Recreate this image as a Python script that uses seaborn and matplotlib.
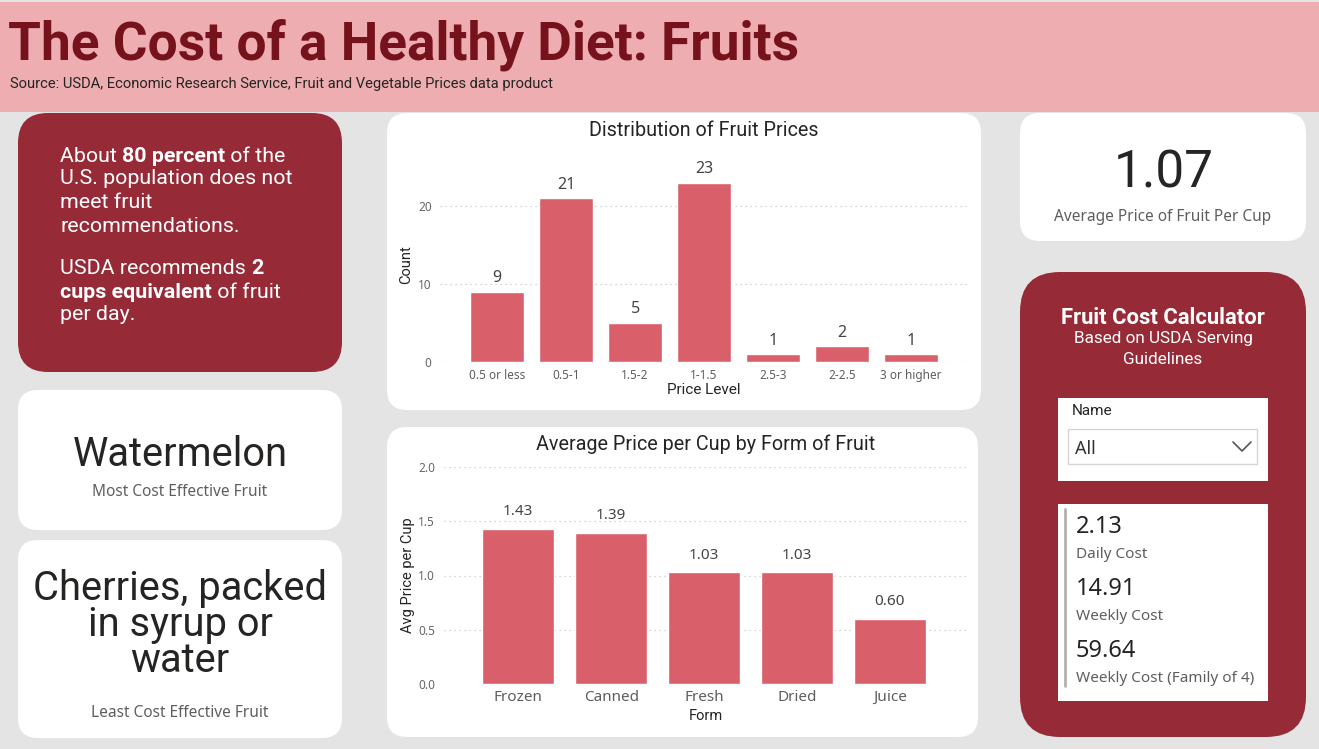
import pandas as pd
import seaborn as sns
import matplotlib.pyplot as plt
from matplotlib.patches import FancyBboxPatch, Rectangle
from matplotlib import font_manager

# chart data
price_levels = ["0.5 or less", "0.5-1", "1.5-2", "1-1.5", "2.5-3", "2-2.5", "3 or higher"]
price_counts = [9, 21, 5, 23, 1, 2, 1]
forms = ["Frozen", "Canned", "Fresh", "Dried", "Juice"]
form_prices = [1.43, 1.39, 1.03, 1.03, 0.60]
avg_price = "1.07"
most_effective = "Watermelon"
least_effective = ["Cherries, packed", "in syrup or", "water"]
calc_values = ["2.13", "14.91", "59.64"]
calc_labels = ["Daily Cost", "Weekly Cost", "Weekly Cost (Family of 4)"]

W, H = 1319, 749
BAR = "#d9606a"
DARK_RED = "#962b37"
TEXT = "#252423"
GREY = "#605e5c"

sns.set_theme(style="white")


def has_font(name):
    try:
        font_manager.findfont(font_manager.FontProperties(family=name), fallback_to_default=False)
        return True
    except ValueError:
        return False


NARROW = "Liberation Sans Narrow" if has_font("Liberation Sans Narrow") else "Roboto"
DIN = "Roboto"
SEGOE = "Noto Sans"
plt.rcParams['font.family'] = [SEGOE, 'DejaVu Sans']

fig = plt.figure(figsize=(W / 100, H / 100), dpi=100)
fig.patch.set_facecolor("#e4e4e4")

# background axes in pixel coordinates
bg = fig.add_axes([0, 0, 1, 1])
bg.set_xlim(0, W)
bg.set_ylim(H, 0)
bg.axis("off")
renderer = fig.canvas.get_renderer()


def card(x0, y0, x1, y1, color, r):
    bg.add_patch(FancyBboxPatch((x0, y0), x1 - x0, y1 - y0,
                                boxstyle=f"round,pad=0,rounding_size={r}",
                                fc=color, ec="none", zorder=1))


# header
bg.add_patch(Rectangle((0, 2), W, 110, fc="#edadb1", ec="none", zorder=1))
bg.text(8, 45, "The Cost of a Healthy Diet: Fruits", fontsize=38.3, fontweight="bold",
        color="#76121b", family=NARROW, va="center", zorder=3)
bg.text(10, 84, "Source: USDA, Economic Research Service, Fruit and Vegetable Prices data product",
        fontsize=10.6, color="#252423", family=DIN, va="center", zorder=3)

# cards
card(18, 113, 342, 372, DARK_RED, 30)
card(18, 390, 342, 530, "white", 20)
card(18, 540, 342, 738, "white", 20)
card(387, 113, 981, 410, "white", 20)
card(387, 427, 978, 737, "white", 20)
card(1020, 113, 1306, 241, "white", 20)
card(1020, 272, 1306, 737, DARK_RED, 40)

# red info card with mixed bold runs
info_lines = [
    (156, [("About ", False), ("80 percent", True), (" of the", False)]),
    (179, [("U.S. population does not", False)]),
    (203, [("meet fruit", False)]),
    (227, [("recommendations.", False)]),
    (268, [("USDA recommends ", False), ("2", True)]),
    (292, [("cups equivalent", True), (" of fruit", False)]),
    (315, [("per day.", False)]),
]
for y, parts in info_lines:
    x = 60
    for s, b in parts:
        t = bg.text(x, y, s, fontsize=15.4, color="white", family=DIN,
                    fontweight="bold" if b else "normal", va="center", zorder=3)
        x += t.get_window_extent(renderer).width

# most / least cost effective
bg.text(180, 455, most_effective, fontsize=28.7, color=TEXT, family=DIN, ha="center", va="center", zorder=3)
bg.text(180, 492, "Most Cost Effective Fruit", fontsize=11.1, color=GREY, ha="center", va="center", zorder=3)
for i, line in enumerate(least_effective):
    bg.text(180, 588 + i * 36, line, fontsize=28.7, color=TEXT, family=DIN, ha="center", va="center", zorder=3)
bg.text(180, 713, "Least Cost Effective Fruit", fontsize=11.1, color=GREY, ha="center", va="center", zorder=3)

# KPI card
bg.text(1164, 173, avg_price, fontsize=37, color=TEXT, family=DIN, ha="center", va="center", zorder=3)
bg.text(1163, 217, "Average Price of Fruit Per Cup", fontsize=11.1, color=GREY, ha="center", va="center", zorder=3)

# calculator card
bg.text(1163, 318, "Fruit Cost Calculator", fontsize=15.8, fontweight="bold", color="white",
        family=DIN, ha="center", va="center", zorder=3)
bg.text(1163, 339, "Based on USDA Serving", fontsize=12.3, color="white", family=DIN, ha="center", va="center", zorder=3)
bg.text(1163, 359, "Guidelines", fontsize=12.3, color="white", family=DIN, ha="center", va="center", zorder=3)

bg.add_patch(Rectangle((1058, 398), 210, 83, fc="white", ec="none", zorder=2))
bg.text(1072, 411, "Name", fontsize=11, color=TEXT, family=DIN, va="center", zorder=3)
bg.add_patch(Rectangle((1068, 429), 189, 35, fc="white", ec="#d6d6d6", lw=1, zorder=3))
bg.text(1075, 449, "All", fontsize=13, color="#333333", va="center", zorder=4)
bg.plot([1233, 1242, 1251], [442, 451, 442], color="#555555", lw=1.2, zorder=4)

bg.add_patch(Rectangle((1058, 504), 210, 197, fc="white", ec="none", zorder=2))
bg.plot([1065, 1065], [509, 686], color="#b3b0ad", lw=2, zorder=3)
for i, (v, lab) in enumerate(zip(calc_values, calc_labels)):
    y = 527 + i * 62
    bg.text(1076, y, v, fontsize=17, color=TEXT, va="center", zorder=3)
    bg.text(1076, y + 27, lab, fontsize=11, color=GREY, va="center", zorder=3)


def px_axes(left, top, right, bottom):
    return fig.add_axes([left / W, 1 - bottom / H, (right - left) / W, (bottom - top) / H])


def style_axes(ax):
    sns.despine(ax=ax, left=True, bottom=True)
    ax.set_facecolor("none")
    ax.yaxis.grid(True, linestyle=(0, (1, 3)), color="#c8c8c8", lw=0.9)
    ax.xaxis.grid(False)
    ax.set_axisbelow(True)


# chart 1: distribution of prices
df1 = pd.DataFrame({"Price Level": price_levels, "Count": price_counts})
ax1 = px_axes(440, 167, 968, 362)
sns.barplot(data=df1, x="Price Level", y="Count", order=price_levels, color=BAR,
            saturation=1, width=0.78, ax=ax1)
style_axes(ax1)
ax1.set_xlim(-0.83, 6.83)
ax1.set_ylim(0, 25)
ax1.set_yticks([0, 10, 20])
ax1.tick_params(axis="y", length=0, pad=6, labelsize=8.5, labelcolor="#666666")
ax1.tick_params(axis="x", length=0, pad=5, labelsize=8.5, labelcolor="#605e5c")
ax1.bar_label(ax1.containers[0], padding=4, fontsize=11.5, color="#444444")
ax1.set_xlabel("Price Level", fontsize=11, color=TEXT, family=DIN)
ax1.set_ylabel("Count", fontsize=10.5, color=TEXT, family=DIN)
ax1.xaxis.set_label_coords(0.5, -0.11)
ax1.yaxis.set_label_coords(-0.05, 0.5)
ax1.set_title("Distribution of Fruit Prices", fontsize=14.2, color=TEXT, family=DIN, pad=0,
              y=(362 - 130) / 195, va="center")

# chart 2: average price per cup by form
df2 = pd.DataFrame({"Form": forms, "Avg Price per Cup": form_prices})
ax2 = px_axes(444, 467, 967, 684)
sns.barplot(data=df2, x="Form", y="Avg Price per Cup", order=forms, color=BAR,
            saturation=1, width=0.775, ax=ax2)
style_axes(ax2)
ax2.set_xlim(-0.80, 4.83)
ax2.set_ylim(0, 2.0)
ax2.set_yticks([0, 0.5, 1.0, 1.5, 2.0])
ax2.set_yticklabels(["0.0", "0.5", "1.0", "1.5", "2.0"])
ax2.tick_params(axis="y", length=0, pad=6.5, labelsize=8.5, labelcolor="#666666")
ax2.tick_params(axis="x", length=0, pad=4, labelsize=11, labelcolor="#605e5c")
ax2.bar_label(ax2.containers[0], fmt="%.2f", padding=7, fontsize=11, color="#444444")
ax2.set_xlabel("Form", fontsize=10.5, color=TEXT, family=DIN)
ax2.set_ylabel("Avg Price per Cup", fontsize=10.5, color=TEXT, family=DIN)
ax2.xaxis.set_label_coords(0.5, -0.115)
ax2.yaxis.set_label_coords(-0.055, 0.5)
ax2.set_title("Average Price per Cup by Form of Fruit", fontsize=14.2, color=TEXT, family=DIN,
              pad=0, y=(684 - 444) / 217, va="center")

fig.savefig("out.png", dpi=100, facecolor=fig.get_facecolor())
